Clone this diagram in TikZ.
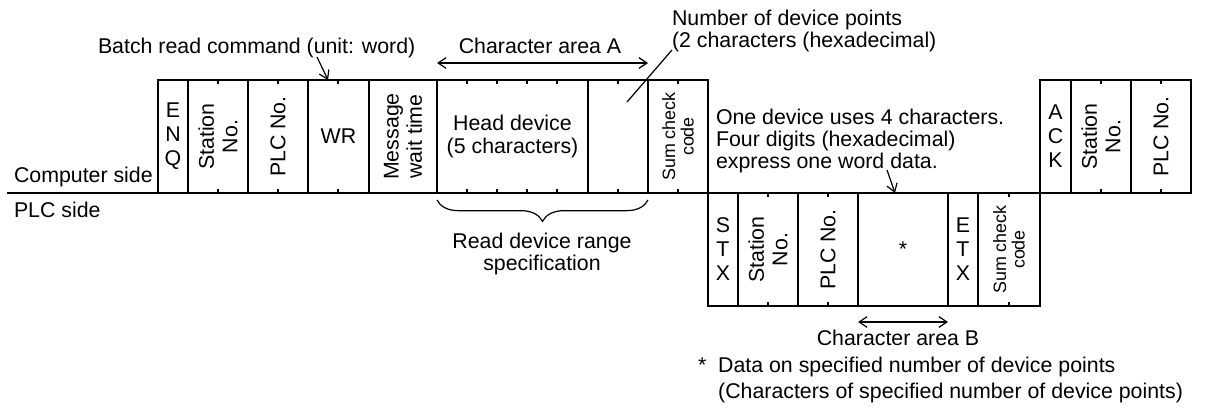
\documentclass[tikz,border=0pt]{standalone}
\usepackage{fontspec}
\setmainfont{Liberation Sans}
\usetikzlibrary{arrows.meta,decorations.pathreplacing}
\newcommand\cellbox[5]{\node[cellst, minimum width={(#3-#2)*0.75pt}, minimum height={(#5-#4)*0.75pt}] (#1) at ({(#2+#3)/2},{(#4+#5)/2}) {};}
\newcommand\tk[3]{\draw[tickst] (#1,#2) -- ++(0,4); \draw[tickst] (#1,#3) -- ++(0,-4);}
\begin{document}
\begin{tikzpicture}[x=0.75pt,y=-0.75pt,
  every node/.style={inner sep=0pt, outer sep=0pt},
  txt/.style={font=\fontsize{16}{17.5}\selectfont},
  cellst/.style={draw, line width=1.2pt, rectangle},
  tickst/.style={line width=1pt},
  vert/.style={txt, rotate=90, align=center},
  stack/.style={font=\fontsize{16}{18}\selectfont, align=center},
  small/.style={font=\fontsize{13.4}{14}\selectfont, rotate=90, align=center},
  arr/.style={line width=0.9pt, -{Straight Barb[length=6pt,width=8pt]}},
  darr/.style={line width=0.9pt, {Straight Barb[length=6pt,width=8pt]}-{Straight Barb[length=6pt,width=8pt]}},
  lead/.style={line width=0.9pt}]
\useasboundingbox (0,0) rectangle (1220,407);

% base line
\coordinate (L0) at (7,193);
\coordinate (L1) at (1191,193);
\draw[line width=1.2pt] (L0) -- (L1);

% computer side (top row)
\cellbox{enq}{158}{188}{80}{193}
\cellbox{stn}{188}{248}{80}{193}
\cellbox{plc}{248}{308}{80}{193}
\cellbox{wr}{308}{369}{80}{193}
\cellbox{msg}{369}{437}{80}{193}
\cellbox{head}{437}{588}{80}{193}
\cellbox{npts}{588}{648}{80}{193}
\cellbox{sum}{648}{708}{80}{193}
\cellbox{ack}{1040}{1071}{80}{193}
\cellbox{stnb}{1071}{1131}{80}{193}
\cellbox{plcb}{1131}{1191}{80}{193}

% PLC side (bottom row)
\cellbox{stx}{708}{738}{193}{306}
\cellbox{stnc}{738}{798}{193}{306}
\cellbox{plcc}{798}{858}{193}{306}
\cellbox{data}{858}{948}{193}{306}
\cellbox{etx}{948}{978}{193}{306}
\cellbox{sumc}{978}{1040}{193}{306}

% ticks
\foreach \x in {218,278,338,467,497,527,557,618,678,1101,1161} {\tk{\x}{80}{193}}
\foreach \x in {768,828,1009} {\tk{\x}{193}{306}}

% cell texts
\node[stack] (t-enq) at (enq) {E\\N\\Q};
\node[vert] (t-stn) at (stn) {Station\\No.};
\node[vert] (t-plc) at (plc) {PLC No.};
\node[txt] (t-wr) at (wr) {WR};
\node[vert] (t-msg) at (msg) {Message\\wait time};
\node[txt, align=center] (t-head) at (head) {Head device\\(5 characters)};
\node[small] (t-sum) at (sum) {Sum check\\code};
\node[stack] (t-ack) at (ack) {A\\C\\K};
\node[vert] (t-stnb) at (stnb) {Station\\No.};
\node[vert] (t-plcb) at (plcb) {PLC No.};
\node[stack] (t-stx) at (stx) {S\\T\\X};
\node[vert] (t-stnc) at (stnc) {Station\\No.};
\node[vert] (t-plcc) at (plcc) {PLC No.};
\node[txt] (t-data) at (data) {*};
\node[stack] (t-etx) at (etx) {E\\T\\X};
\node[small] (t-sumc) at (sumc) {Sum check\\code};

% side labels
\node[txt, anchor=base west] (comp) at (14,182) {Computer side};
\node[txt, anchor=base west] (plcside) at (14,217) {PLC side};

% batch read command
\node[txt, anchor=base west] (batch) at (98,53) {Batch read command (unit: word)};
\coordinate (b0) at (317,57);
\coordinate (b1) at (328,80);
\draw[arr] (b0) -- (b1);

% character area A
\node[txt, anchor=base] (areaA) at (540,53) {Character area A};
\draw[darr] (head.north west |- 0,63) -- (npts.north east |- 0,63);

% number of device points (base = last line)
\node[txt, anchor=base west, align=left, font=\fontsize{16}{16.5}\selectfont] (np) at (672,47) {Number of device points\\(2 characters (hexadecimal)};
\coordinate (n0) at (672,50);
\coordinate (n1) at (627,102);
\draw[lead] (n0) -- (n1);

% brace
\draw[line width=0.9pt, decorate, decoration={brace, mirror, amplitude=16pt}] (437,200) -- (648,200);
\node[txt, align=center, anchor=base, font=\fontsize{16}{16}\selectfont] (range) at (542,270) {Read device range\\specification};

% one device note (base = last line)
\node[txt, anchor=base west, align=left, font=\fontsize{16}{16.3}\selectfont] (note) at (716,168) {One device uses 4 characters.\\Four digits (hexadecimal)\\express one word data.};
\coordinate (o0) at (887,170);
\coordinate (o1) at (895,193);
\draw[arr] (o0) -- (o1);

% character area B
\draw[darr] (data.south west |- 0,322) -- (data.south east |- 0,322);
\node[txt, anchor=base] (areaB) at (898,345) {Character area B};

% footnote (base = last line)
\node[txt, anchor=base west, align=left, font=\fontsize{16}{19.5}\selectfont] (foot) at (698,398) {*~~Data on specified number of device points\\\hphantom{*~~}(Characters of specified number of device points)};

\end{tikzpicture}
\end{document}
